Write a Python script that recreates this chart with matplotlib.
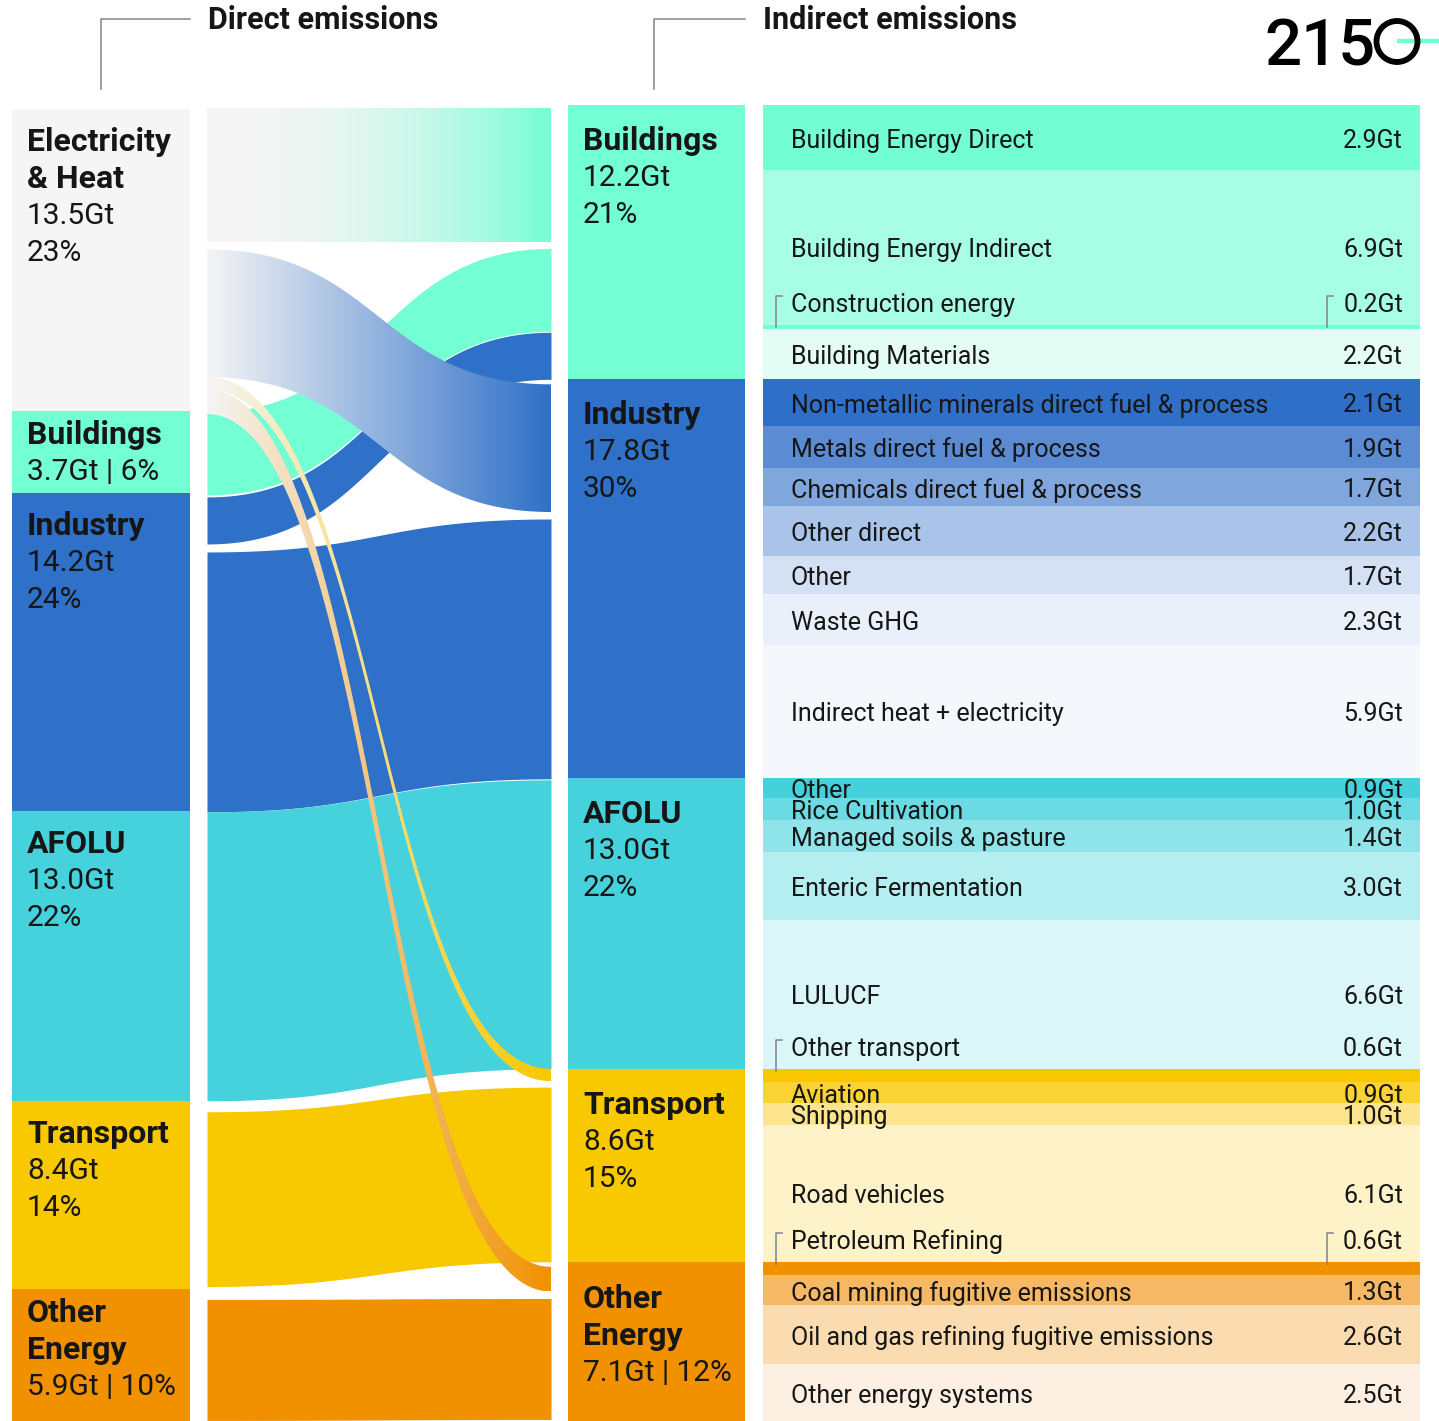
"""
Direct vs indirect greenhouse gas emissions by sector (Gt CO2e).
"""

import numpy as np
import matplotlib
matplotlib.use("Agg")
import matplotlib.pyplot as plt
from matplotlib.patches import Polygon, Circle
from matplotlib.colors import to_rgb

plt.rcParams["font.family"] = ["Roboto", "DejaVu Sans"]

# direct emissions by sector (left column)
direct_names = ["Electricity\n& Heat", "Buildings", "Industry", "AFOLU", "Transport", "Other\nEnergy"]
direct_gt = [13.5, 3.7, 14.2, 13.0, 8.4, 5.9]
direct_colors = ["#f5f5f5", "#74fed3", "#2f70c8", "#46d2dc", "#f8c800", "#f29100"]

# indirect emissions by sector (middle column)
indirect_names = ["Buildings", "Industry", "AFOLU", "Transport", "Other\nEnergy"]
indirect_gt = [12.2, 17.8, 13.0, 8.6, 7.1]
indirect_colors = ["#74fed3", "#2f70c8", "#46d2dc", "#f8c800", "#f29100"]

# flows: direct sector index -> indirect sector index
flow_src = [0, 0, 0, 0, 1, 2, 2, 3, 4, 5]
flow_dst = [0, 1, 3, 4, 0, 0, 1, 2, 3, 4]
flow_gt = [6.0, 5.7, 0.55, 1.1, 3.7, 2.1, 11.6, 12.9, 7.8, 5.4]

# breakdown of each indirect sector (right column)
sub_group = [0] * 4 + [1] * 7 + [2] * 5 + [3] * 4 + [4] * 4
sub_names = [
    "Building Energy Direct", "Building Energy Indirect", "Construction energy", "Building Materials",
    "Non-metallic minerals direct fuel & process", "Metals direct fuel & process",
    "Chemicals direct fuel & process", "Other direct", "Other", "Waste GHG",
    "Indirect heat + electricity",
    "Other", "Rice Cultivation", "Managed soils & pasture", "Enteric Fermentation", "LULUCF",
    "Other transport", "Aviation", "Shipping", "Road vehicles",
    "Petroleum Refining", "Coal mining fugitive emissions",
    "Oil and gas refining fugitive emissions", "Other energy systems",
]
sub_gt = [
    2.9, 6.9, 0.2, 2.2,
    2.1, 1.9, 1.7, 2.2, 1.7, 2.3, 5.9,
    0.9, 1.0, 1.4, 3.0, 6.6,
    0.6, 0.9, 1.0, 6.1,
    0.6, 1.3, 2.6, 2.5,
]
sub_colors = [
    "#72fed2", "#a7fee2", "#72fed2", "#e3fdf4",
    "#2f6fc7", "#5b8bd3", "#80a6de", "#aac4e9", "#d4e1f4", "#e9f0fa", "#f4f7fc",
    "#45d1dc", "#6adbe3", "#8fe4ea", "#b4eef1", "#daf6f8",
    "#f8c700", "#fad232", "#fde58f", "#fdf2c8",
    "#f29100", "#f7b865", "#fadcb0", "#fdf0e2",
]
# thin rows whose label sits above the bar, with a bracket
bracket_rows = {"Construction energy", "Other transport", "Petroleum Refining"}
bracket_values = {"Construction energy", "Petroleum Refining"}

W, H = 1439, 1421
TEXT = "#161616"
LINE = "#80838f"
MINT = "#74fed3"


def band(x0, x1, y0a, y0b, y1a, y1b, n=240):
    t = np.linspace(0, 1, n)
    x = x0 + (x1 - x0) * (1.5 * t * (1 - t) + t ** 3)
    s = 3 * t ** 2 - 2 * t ** 3
    return x, y0a + (y1a - y0a) * s, y0b + (y1b - y0b) * s


def gradient_band(ax, x, top, bot, c0, c1, power, zorder):
    verts = np.column_stack([np.r_[x, x[::-1]], np.r_[top, bot[::-1]]])
    poly = Polygon(verts, closed=True, facecolor="none", edgecolor="none")
    ax.add_patch(poly)
    ramp = np.linspace(0, 1, 256)[None, :, None] ** power
    img = (1 - ramp) * np.array(to_rgb(c0)) + ramp * np.array(to_rgb(c1))
    im = ax.imshow(img, extent=(x[0], x[-1], bot.max(), top.min()),
                   aspect="auto", interpolation="bilinear", zorder=zorder)
    im.set_clip_path(poly)


def node_labels(ax, x, tops, heights, names, values, total, first, first_small):
    for top, h, name, v in zip(tops, heights, names, values):
        pct = round(v / total * 100)
        if h < 160:
            vals = [f"{v:.1f}Gt | {pct}%"]
            y = top + first_small
        else:
            vals = [f"{v:.1f}Gt", f"{pct}%"]
            y = top + first
        for line in name.split("\n"):
            ax.text(x, y, line, fontsize=23, fontweight="bold", color=TEXT, va="center")
            y += 37
        for line in vals:
            ax.text(x, y, line, fontsize=21.5, color=TEXT, va="center")
            y += 37


fig = plt.figure(figsize=(W / 100, H / 100), dpi=100)
ax = fig.add_axes([0, 0, 1, 1])

# left column: direct emissions
total = sum(direct_gt)
k_left = (H - 109) / total
left_h = np.array(direct_gt) * k_left
left_top = 109 + np.r_[0, np.cumsum(left_h)[:-1]]
ax.bar(101, left_h, bottom=left_top, width=178, color=direct_colors, linewidth=0)
node_labels(ax, 27, left_top, left_h, direct_names, direct_gt, total, 33, 24)

# middle column: indirect emissions
k_mid = (H - 105) / sum(indirect_gt)
mid_h = np.array(indirect_gt) * k_mid
mid_top = 105 + np.r_[0, np.cumsum(mid_h)[:-1]]
ax.bar(656.5, mid_h, bottom=mid_top, width=177, color=indirect_colors, linewidth=0)
node_labels(ax, 583, mid_top, mid_h, indirect_names, indirect_gt, sum(indirect_gt), 36, 37)

# right column: breakdown rows scaled to fill each sector
row_h, row_top = [], []
for g in range(len(indirect_gt)):
    vals = [v for v, gg in zip(sub_gt, sub_group) if gg == g]
    y = mid_top[g]
    for v in vals:
        h = mid_h[g] * v / sum(vals)
        row_top.append(y)
        row_h.append(h)
        y += h
ax.bar(1091.5, row_h, bottom=row_top, width=657, color=sub_colors, linewidth=0)

for name, v, top, h in zip(sub_names, sub_gt, row_top, row_h):
    if name in bracket_rows:
        y = top - 20
        ax.plot([782, 776, 776], [y - 9, y - 9, top + 2], color=LINE, lw=1.1)
        if name in bracket_values:
            ax.plot([1333, 1327, 1327], [y - 9, y - 9, top + 2], color=LINE, lw=1.1)
    else:
        y = top + h / 2 + 3
    ax.text(791, y, name, fontsize=18, color=TEXT, va="center")
    ax.text(1403, y, f"{v:.1f}Gt", fontsize=18, color=TEXT, va="center", ha="right")

# flows between the two columns
n = len(flow_gt)
k = 22.4
left_gap = [0, 7, 0, 0, -2, 2, 8, 0, 11, 13]
right_order = sorted(range(n), key=lambda i: (flow_dst[i], flow_src[i]))
right_gap = [0, 6, 1, 5, 7, 1, 0, 6, 5, 7]

left_y, right_y = {}, {}
y = 108
for i, gap in zip(range(n), left_gap):
    y += gap
    left_y[i] = (y, y + flow_gt[i] * k)
    y += flow_gt[i] * k
y = 108
for i, gap in zip(right_order, right_gap):
    y += gap
    right_y[i] = (y, y + flow_gt[i] * k)
    y += flow_gt[i] * k

# solid flows underneath, electricity & heat gradients on top
draw_order = [i for i in range(n) if flow_src[i] != 0] + [i for i in range(n) if flow_src[i] == 0]
for z, i in enumerate(draw_order):
    x, top, bot = band(207, 551, left_y[i][0], left_y[i][1], right_y[i][0], right_y[i][1])
    c0 = direct_colors[flow_src[i]]
    if flow_src[i] == 0:
        c1 = indirect_colors[flow_dst[i]]
        power = 2.2 if flow_dst[i] == 0 else 1.0
        gradient_band(ax, x, top, bot, c0, c1, power, zorder=2 + z * 0.01)
    else:
        ax.fill_between(x, top, bot, color=c0, linewidth=0, zorder=2 + z * 0.01)

# headers with bracket lines
ax.plot([101, 101, 190], [89, 19, 19], color=LINE, lw=1.1)
ax.text(208, 20, "Direct emissions", fontsize=22, fontweight="bold", color=TEXT, va="center")
ax.plot([654, 654, 745], [89, 19, 19], color=LINE, lw=1.1)
ax.text(763, 20, "Indirect emissions", fontsize=22, fontweight="bold", color=TEXT, va="center")

# 2150 logo
ax.plot([1397, W], [41, 41], color=MINT, lw=3.2, solid_capstyle="butt", zorder=5)
ax.text(1264, 65, "215", fontsize=47, fontweight="medium", color="black",
        va="baseline", zorder=6)
ax.add_patch(Circle((1397, 41.5), 20.5, facecolor="none", edgecolor="black", lw=4.2, zorder=6))

ax.set_xlim(0, W)
ax.set_ylim(H, 0)
ax.axis("off")

fig.savefig("out.png", dpi=100)
